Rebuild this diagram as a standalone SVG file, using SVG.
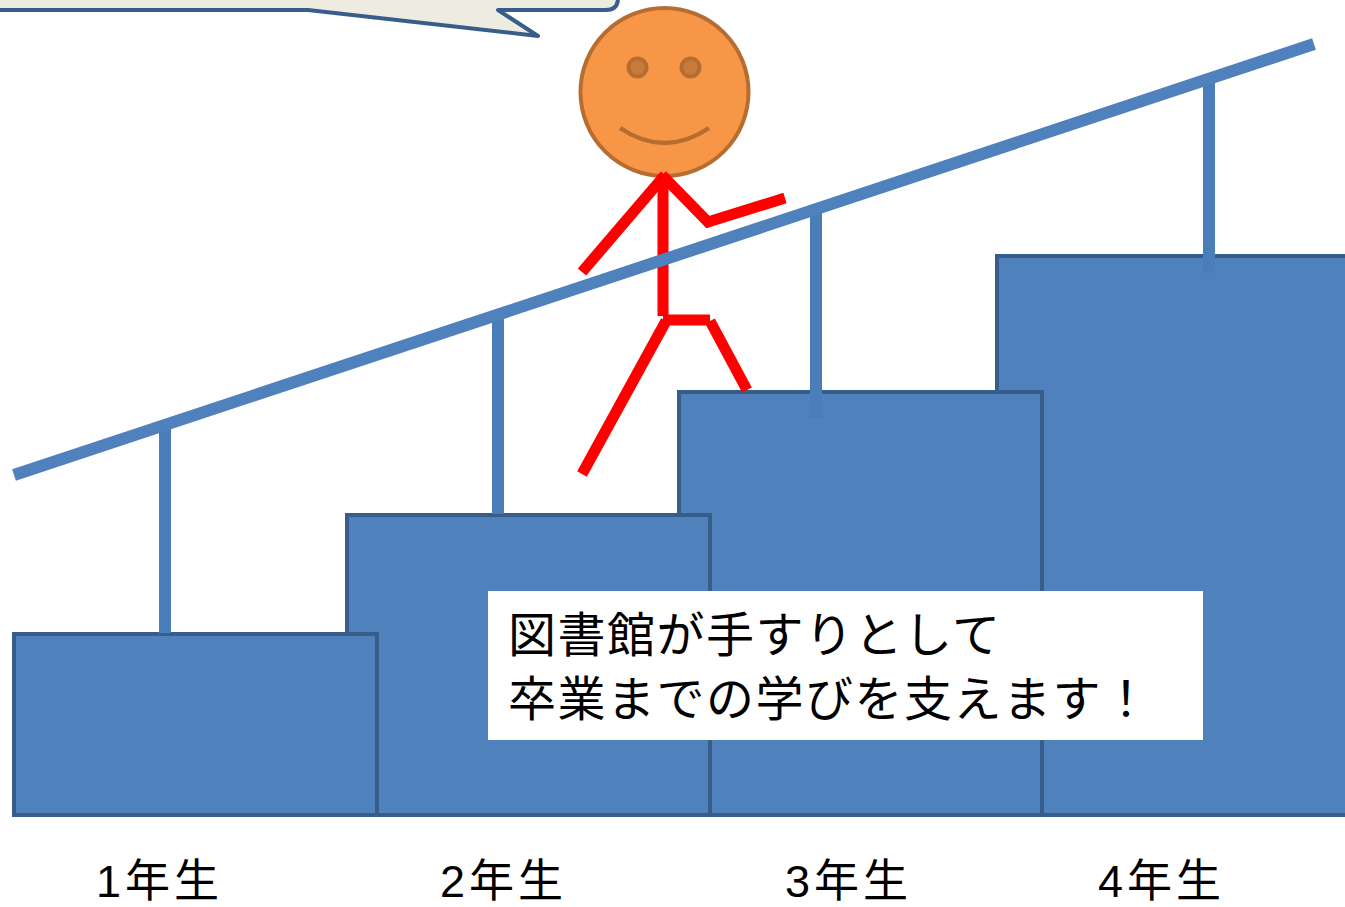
<svg xmlns="http://www.w3.org/2000/svg" width="1345" height="907" viewBox="0 0 1345 907">
  <style>
    .step { fill: #4F81BD; stroke: #385D8A; stroke-width: 4; }
    .post { stroke: #4A7EBB; stroke-width: 12; }
    .rail { stroke: #4F81BD; stroke-width: 12; }
    .limb { stroke: #FF0000; stroke-width: 11; fill: none; }
    .label { font-family: "Liberation Sans", "Noto Sans CJK JP", sans-serif; font-size: 45px; letter-spacing: 4px; fill: #000; }
    .msg { font-family: "Noto Sans CJK JP", sans-serif; font-size: 48px; letter-spacing: 1.5px; fill: #000; }
  </style>

  <rect width="1345" height="907" fill="#FFFFFF"/>

  <!-- speech bubble (mostly above the top edge) -->
  <g id="bubble">
    <path d="M -10 -40 H 618 V -2 Q 618 10 606 10 H 498 L 538 36 L 308 10 H -10 Z"
          fill="#EEECE1" stroke="#385D8A" stroke-width="4" stroke-linejoin="round"/>
  </g>

  <!-- steps, drawn from the back (4th year) to the front (1st year) -->
  <g id="step4"><rect class="step" x="997" y="256" width="360" height="559"/></g>
  <g id="step3"><rect class="step" x="679" y="392" width="363" height="423"/></g>
  <g id="step2"><rect class="step" x="347" y="515" width="363" height="300"/></g>
  <g id="step1"><rect class="step" x="14" y="634" width="363" height="181"/></g>

  <!-- handrail posts -->
  <g id="posts">
    <line class="post" x1="165" y1="425" x2="165" y2="633"/>
    <line class="post" x1="498" y1="315" x2="498" y2="514"/>
    <line class="post" x1="816" y1="210" x2="816" y2="418"/>
    <line class="post" x1="1209" y1="80" x2="1209" y2="273"/>
  </g>

  <!-- stick figure -->
  <g id="person">
    <circle cx="664.5" cy="92" r="84" fill="#F79646" stroke="#B66D31" stroke-width="4"/>
    <circle cx="637.5" cy="67.5" r="9" fill="#C97B3C" stroke="#B66D31" stroke-width="4"/>
    <circle cx="690.5" cy="67.5" r="9" fill="#C97B3C" stroke="#B66D31" stroke-width="4"/>
    <path d="M 620 128 Q 664.5 158 709 128" fill="none" stroke="#B66D31" stroke-width="4.5"/>
    <line class="limb" x1="663" y1="174" x2="663" y2="316"/>
    <line class="limb" x1="665" y1="175" x2="582" y2="272"/>
    <polyline class="limb" points="662,175 708,222 785,198"/>
    <line class="limb" x1="663" y1="320" x2="710" y2="320"/>
    <line class="limb" x1="666" y1="321" x2="582" y2="474"/>
    <line class="limb" x1="710" y1="321" x2="747" y2="390"/>
  </g>

  <!-- handrail -->
  <g id="handrail">
    <line class="rail" x1="14" y1="475" x2="1314" y2="44"/>
  </g>

  <!-- message box -->
  <g id="message">
    <rect x="488" y="591" width="715" height="149" fill="#FFFFFF"/>
    <text class="msg" x="508" y="652">図書館が手すりとして</text>
    <text class="msg" x="508" y="716" letter-spacing="2.2">卒業までの学びを支えます！</text>
  </g>

  <!-- year labels -->
  <g id="labels">
    <text class="label" x="96" y="897">1年生</text>
    <text class="label" x="440" y="897">2年生</text>
    <text class="label" x="785" y="897">3年生</text>
    <text class="label" x="1098" y="897">4年生</text>
  </g>
</svg>
